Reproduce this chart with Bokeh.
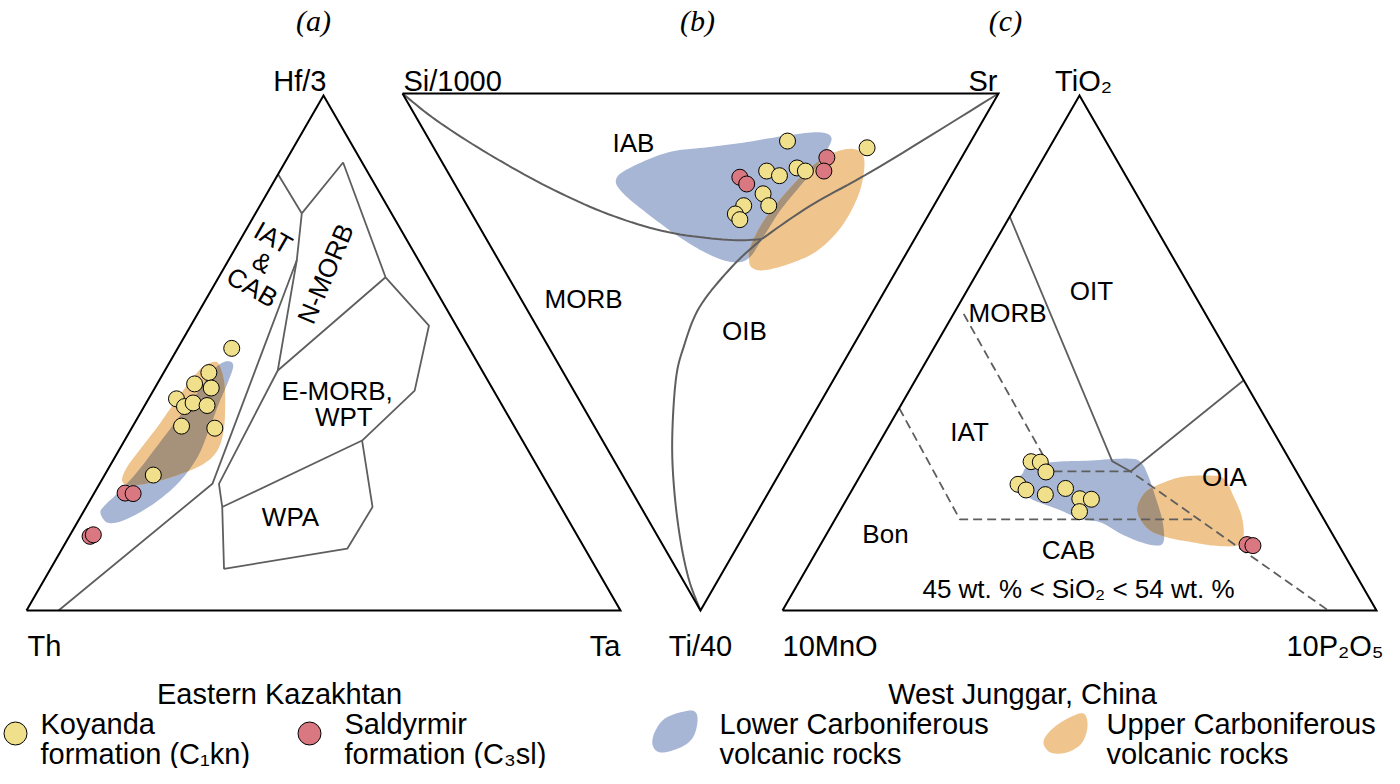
import math
from bokeh.plotting import figure
from bokeh.models import Range1d
from bokeh.core.properties import value
from bokeh.embed import file_html
from bokeh.resources import INLINE

# ======================= DATA (ternary percentages) =======================
# (a) Th - Hf/3 - Ta : values are % Hf/3 (top) and % Ta (right); Th = remainder
a_koyanda_hf3 = [50.9, 46.2, 44.0, 43.2, 41.1, 39.6, 40.3, 39.8, 35.8, 35.4, 26.3]
a_koyanda_ta = [9.1, 7.6, 6.3, 9.5, 4.7, 6.8, 7.9, 10.5, 8.2, 14.0, 8.2]
a_saldyrmir_hf3 = [22.8, 22.7, 14.4, 14.7]
a_saldyrmir_ta = [5.2, 6.6, 3.5, 3.9]
a_lower_hf3 = [18.9, 17.1, 17.3, 19.1, 21.7, 25.2, 29.8, 35.0, 40.1, 44.0, 47.4, 48.4, 47.9, 46.0, 41.4, 36.3, 31.1, 26.5, 22.7, 20.2]
a_lower_ta = [3.0, 5.0, 7.2, 9.6, 11.7, 13.3, 13.9, 13.2, 12.3, 11.8, 11.1, 9.9, 8.7, 8.0, 7.5, 6.7, 5.9, 5.1, 3.9, 2.9]
a_upper_hf3 = [25.2, 27.8, 31.4, 35.6, 40.1, 44.7, 47.2, 48.2, 47.9, 44.7, 40.1, 35.0, 31.1, 28.5, 26.5, 24.9, 24.3]
a_upper_ta = [3.5, 3.0, 3.5, 4.2, 4.7, 5.3, 6.0, 7.2, 8.4, 10.9, 13.4, 15.7, 16.6, 15.6, 12.7, 9.0, 5.4]
# field boundaries (Hf/3 %, Ta %)
a_line_1 = [(84.7, 0.0), (77.1, 7.8)]
a_line_2 = [(77.1, 7.8), (87.0, 9.8), (64.7, 28.1), (55.3, 40.1), (42.7, 44.0), (33.0, 40.0),
            (20.1, 48.2), (12.0, 48.0), (8.1, 29.2), (20.1, 22.9), (24.6, 20.1), (46.6, 19.0), (64.7, 28.1)]
a_line_3 = [(77.1, 7.8), (68.0, 11.5), (46.6, 19.0)]
a_line_4 = [(68.0, 11.5), (24.6, 19.0), (0.0, 5.4)]
a_line_5 = [(20.1, 22.9), (33.0, 40.0)]

# (b) Si/1000 - Sr - Ti/40 : values are % Ti/40 (bottom) and % Sr (top right)
b_koyanda_ti = [9.2, 10.5, 15.0, 15.9, 14.4, 15.0, 19.4, 21.7, 21.7, 23.3, 24.4]
b_koyanda_sr = [60.0, 72.7, 53.6, 55.3, 59.0, 60.1, 50.8, 50.6, 46.4, 44.2, 44.4]
b_saldyrmir_ti = [16.2, 17.5, 12.4, 15.0]
b_saldyrmir_sr = [48.5, 49.0, 65.0, 63.2]
b_lower_ti = [16.8, 14.6, 11.4, 10.4, 9.4, 8.1, 7.5, 8.5, 11.0, 13.9, 17.8, 22.6, 27.9, 31.9, 32.6, 31.0, 27.8, 23.3, 19.4]
b_lower_sr = [27.4, 30.5, 38.8, 46.0, 53.1, 60.5, 66.2, 67.7, 65.7, 62.7, 57.9, 52.1, 46.5, 42.1, 38.9, 35.7, 32.6, 29.5, 27.4]
b_upper_ti = [32.3, 29.7, 24.6, 18.8, 14.3, 11.7, 10.7, 11.7, 14.9, 20.1, 25.9, 30.4, 32.9, 34.2, 33.7]
b_upper_sr = [42.0, 43.5, 48.3, 55.2, 61.3, 66.0, 69.8, 71.3, 70.0, 66.3, 60.6, 54.4, 48.6, 43.5, 41.8]
b_curve_1 = [(0.0, 0.0), (5.2, 3.1), (11.7, 8.6), (18.1, 15.4), (23.3, 22.8), (26.8, 31.1), (28.3, 40.4), (28.2, 46.1)]
b_curve_2 = [(28.2, 46.1), (21.7, 57.6), (14.1, 73.1), (0.0, 100.0)]
b_curve_3 = [(28.2, 46.1), (33.6, 38.4), (41.3, 29.2), (49.1, 22.6), (55.5, 18.1), (67.1, 11.7),
             (76.8, 7.2), (86.5, 3.4), (94.2, 1.0), (100.0, 0.0)]

# (c) 10MnO - TiO2 - 10P2O5 : values are % TiO2 (top) and % 10P2O5 (right)
c_koyanda_tio2 = [28.9, 28.8, 26.9, 24.5, 23.4, 22.5, 23.7, 21.7, 21.6, 19.2]
c_koyanda_p2o5 = [27.4, 29.0, 30.9, 27.4, 29.3, 33.0, 35.8, 39.2, 41.2, 40.4]
c_saldyrmir_tio2 = [12.8, 12.6]
c_saldyrmir_p2o5 = [71.8, 72.9]
c_lower_tio2 = [26.5, 27.8, 28.8, 29.1, 29.5, 28.8, 25.9, 22.0, 17.5, 13.6, 12.6, 13.3, 14.9, 17.1, 17.8, 19.7, 21.4, 23.0, 24.6]
c_lower_p2o5 = [27.1, 27.3, 30.7, 36.7, 43.3, 45.9, 48.7, 51.8, 55.2, 57.4, 56.8, 53.6, 49.5, 45.0, 41.3, 36.4, 31.6, 28.6, 26.6]
c_upper_tio2 = [19.4, 22.7, 24.3, 25.9, 26.2, 25.6, 22.0, 18.1, 14.2, 12.6, 12.6, 13.3, 14.2, 15.9]
c_upper_p2o5 = [50.0, 49.5, 50.9, 54.1, 58.4, 61.5, 65.0, 68.3, 70.5, 70.2, 66.3, 62.1, 57.6, 53.5]
c_solid_1 = [(76.5, 0.0), (29.0, 41.0), (27.0, 45.1)]
c_solid_2 = [(27.0, 45.1), (44.7, 55.3)]
c_dash_1 = [(57.6, 1.7), (27.0, 31.9), (27.0, 45.1), (0.0, 91.9)]
c_dash_2 = [(39.3, 0.0), (17.7, 21.0), (17.7, 61.0)]

# ======================= LAYOUT =======================
H = 784
VA = ((26, 174), (620, 174), (323, 689))     # Th, Ta, Hf/3
VB = ((402, 691), (998, 691), (700, 174))    # Si/1000, Sr, Ti/40
VC = ((782, 174), (1376, 174), (1079, 689))  # 10MnO, 10P2O5, TiO2

YELLOW = "#F0E08C"
PINK = "#D97880"
BLUE = "#A8B6D6"
ORANGE = "#EFC48D"
BROWN = "#A6927A"
GRAY = "#5E5E5E"
SANS = "Liberation Sans"


def up_xy(top, right, V):
    (lx, ly), (rx, ry), (tx, ty) = V
    left = 100.0 - top - right
    return ((left * lx + right * rx + top * tx) / 100.0, (left * ly + right * ry + top * ty) / 100.0)


def down_xy(ti, sr, V):
    (ax, ay), (bx, by), (cx, cy) = V
    si = 100.0 - ti - sr
    return ((si * ax + sr * bx + ti * cx) / 100.0, (si * ay + sr * by + ti * cy) / 100.0)


def conv(A, B, f, V):
    return [f(a, b, V) for a, b in zip(A, B)]


def conv_pairs(P, f, V):
    return [f(a, b, V) for a, b in P]


def catmull(P, closed, n=10):
    m = len(P)
    out = []
    rng = range(m) if closed else range(m - 1)
    for i in rng:
        if closed:
            p0, p1, p2, p3 = P[(i - 1) % m], P[i], P[(i + 1) % m], P[(i + 2) % m]
        else:
            p0, p1, p2, p3 = P[max(i - 1, 0)], P[i], P[i + 1], P[min(i + 2, m - 1)]
        for k in range(n):
            t = k / n
            t2, t3 = t * t, t * t * t
            pt = []
            for d in range(2):
                pt.append(0.5 * (2 * p1[d] + (-p0[d] + p2[d]) * t
                                 + (2 * p0[d] - 5 * p1[d] + 4 * p2[d] - p3[d]) * t2
                                 + (-p0[d] + 3 * p1[d] - 3 * p2[d] + p3[d]) * t3))
            out.append(tuple(pt))
    if not closed:
        out.append(P[-1])
    return out


def hull(pts):
    pts = sorted(set(pts))
    if len(pts) < 3:
        return pts

    def cross(o, a, b):
        return (a[0] - o[0]) * (b[1] - o[1]) - (a[1] - o[1]) * (b[0] - o[0])
    lower, upper = [], []
    for q in pts:
        while len(lower) >= 2 and cross(lower[-2], lower[-1], q) <= 0:
            lower.pop()
        lower.append(q)
    for q in reversed(pts):
        while len(upper) >= 2 and cross(upper[-2], upper[-1], q) <= 0:
            upper.pop()
        upper.append(q)
    return lower[:-1] + upper[:-1]


def clip(subject, clipper):
    def inside(p, a, b):
        return (b[0] - a[0]) * (p[1] - a[1]) - (b[1] - a[1]) * (p[0] - a[0]) >= 0

    def inter(s, e, a, b):
        x1, y1 = s; x2, y2 = e; x3, y3 = a; x4, y4 = b
        den = (x1 - x2) * (y3 - y4) - (y1 - y2) * (x3 - x4)
        if abs(den) < 1e-12:
            return e
        t = ((x1 - x3) * (y3 - y4) - (y1 - y3) * (x3 - x4)) / den
        return (x1 + t * (x2 - x1), y1 + t * (y2 - y1))
    out = list(subject)
    for i in range(len(clipper)):
        a, b = clipper[i], clipper[(i + 1) % len(clipper)]
        inp, out = out, []
        if not inp:
            break
        s = inp[-1]
        for e in inp:
            if inside(e, a, b):
                if not inside(s, a, b):
                    out.append(inter(s, e, a, b))
                out.append(e)
            elif inside(s, a, b):
                out.append(inter(s, e, a, b))
            s = e
    return out


p = figure(width=1384, height=768, x_range=Range1d(0, 1384), y_range=Range1d(16, 784),
           output_backend="svg", toolbar_location=None, min_border=0,
           x_axis_location=None, y_axis_location=None)
p.grid.visible = False
p.outline_line_color = None
p.background_fill_color = "white"
p.border_fill_color = "white"


def blobs(lower, upper):
    lo = catmull(lower, True)
    up = catmull(upper, True)
    p.patch([q[0] for q in lo], [q[1] for q in lo], fill_color=BLUE, line_color=None)
    p.patch([q[0] for q in up], [q[1] for q in up], fill_color=ORANGE, line_color=None)
    ov = clip(lo, hull(up))
    if len(ov) > 2:
        p.patch([q[0] for q in ov], [q[1] for q in ov], fill_color=BROWN, line_color=None)


def pline(P, smooth=False, dash="solid", color=GRAY, width=1.8):
    if smooth:
        P = catmull(P, False)
    p.line([q[0] for q in P], [q[1] for q in P], line_color=color, line_width=width, line_dash=dash)


def tri(V):
    xs = [V[0][0], V[1][0], V[2][0], V[0][0]]
    ys = [V[0][1], V[1][1], V[2][1], V[0][1]]
    p.line(xs, ys, line_color="black", line_width=2, line_join="miter")


def points(P, color):
    p.scatter([q[0] for q in P], [q[1] for q in P], size=16, marker="circle",
              fill_color=color, line_color="black", line_width=1)


# ---- (a) ----
blobs(conv(a_lower_hf3, a_lower_ta, up_xy, VA), conv(a_upper_hf3, a_upper_ta, up_xy, VA))
for ln in (a_line_1, a_line_2, a_line_3, a_line_4, a_line_5):
    pline(conv_pairs(ln, up_xy, VA))
tri(VA)
points(conv(a_koyanda_hf3, a_koyanda_ta, up_xy, VA), YELLOW)
points(conv(a_saldyrmir_hf3, a_saldyrmir_ta, up_xy, VA), PINK)

# ---- (b) ----
blobs(conv(b_lower_ti, b_lower_sr, down_xy, VB), conv(b_upper_ti, b_upper_sr, down_xy, VB))
for ln in (b_curve_1, b_curve_2, b_curve_3):
    pline(conv_pairs(ln, down_xy, VB), smooth=True, width=2)
tri(VB)
points(conv(b_koyanda_ti, b_koyanda_sr, down_xy, VB), YELLOW)
points(conv(b_saldyrmir_ti, b_saldyrmir_sr, down_xy, VB), PINK)

# ---- (c) ----
blobs(conv(c_lower_tio2, c_lower_p2o5, up_xy, VC), conv(c_upper_tio2, c_upper_p2o5, up_xy, VC))
pline(conv_pairs(c_solid_1, up_xy, VC))
pline(conv_pairs(c_solid_2, up_xy, VC))
pline(conv_pairs(c_dash_1, up_xy, VC), dash="9 5")
pline(conv_pairs(c_dash_2, up_xy, VC), dash="9 5")
tri(VC)
points(conv(c_koyanda_tio2, c_koyanda_p2o5, up_xy, VC), YELLOW)
points(conv(c_saldyrmir_tio2, c_saldyrmir_p2o5, up_xy, VC), PINK)


# ---- texts ----
def label(x, yimg, s, size, angle=0.0, align="center", baseline="middle", font=SANS, style="normal"):
    p.text(x=[x], y=[H - yimg], text=[s], angle=angle, text_align=align, text_baseline=baseline,
           text_font=value(font), text_font_size=value(f"{size}px"), text_font_style=style,
           text_color="black")


for s, x in (("(a)", 313), ("(b)", 697), ("(c)", 1005)):
    label(x, 20, s, 30, font="Liberation Serif", style="italic")

label(326, 80, "Hf/3", 29, align="right", baseline="alphabetic")
label(403, 80, "Si/1000", 29, align="left", baseline="alphabetic")
label(997, 80, "Sr", 29, align="right", baseline="alphabetic")
label(1083, 80, "TiO₂", 29, baseline="alphabetic")
label(27, 645, "Th", 29, align="left", baseline="alphabetic")
label(620, 645, "Ta", 29, align="right", baseline="alphabetic")
label(700, 645, "Ti/40", 29, baseline="alphabetic")
label(782, 645, "10MnO", 29, align="left", baseline="alphabetic")
label(1383, 645, "10P₂O₅", 29, align="right", baseline="alphabetic")

# field names (a)
label(272.7, 237.3, "IAT", 26, angle=-0.52)
label(261.7, 261.7, "&", 26, angle=-0.52)
label(251.7, 286.7, "CAB", 26, angle=-0.52)
label(325, 273.3, "N-MORB", 26, angle=1.17)
label(336.7, 390, "E-MORB,", 26)
label(343.3, 416.7, "WPT", 26)
label(290, 516.7, "WPA", 26)
# field names (b)
label(633, 142, "IAB", 26)
label(583, 298, "MORB", 26)
label(744, 330, "OIB", 26)
# field names (c)
label(1091, 290, "OIT", 26)
label(1007, 312, "MORB", 26)
label(969, 431, "IAT", 26)
label(1224, 476, "OIA", 26)
label(885, 533, "Bon", 26)
label(1068, 549, "CAB", 26)
label(1078, 588, "45 wt. % < SiO₂ < 54 wt. %", 26)

# legend
label(279, 693, "Eastern Kazakhtan", 29, baseline="alphabetic")
label(1022, 693, "West Junggar, China", 29, baseline="alphabetic")
p.scatter([15, 309], [H - 733, H - 733], size=23, marker="circle",
          fill_color=[YELLOW, PINK], line_color="black", line_width=1)
leg_blue = [(660, 752), (652, 744), (655, 730), (666, 717), (690, 710), (697, 717), (693, 736), (680, 747)]
leg_orange = [(1050, 752), (1043, 742), (1050, 730), (1067, 718), (1083, 713), (1087, 726), (1081, 743), (1066, 752)]
lb = catmull([(x, H - y) for x, y in leg_blue], True)
lo = catmull([(x, H - y) for x, y in leg_orange], True)
p.patch([q[0] for q in lb], [q[1] for q in lb], fill_color=BLUE, line_color=None)
p.patch([q[0] for q in lo], [q[1] for q in lo], fill_color=ORANGE, line_color=None)
for x, l1, l2 in ((40, "Koyanda", "formation (C₁kn)"), (344, "Saldyrmir", "formation (C₃sl)"),
                  (719, "Lower Carboniferous", "volcanic rocks"), (1106, "Upper Carboniferous", "volcanic rocks")):
    label(x, 723, l1, 29, align="left", baseline="alphabetic")
    label(x, 753, l2, 29, align="left", baseline="alphabetic")

open("out.html", "w").write(file_html(p, INLINE))
